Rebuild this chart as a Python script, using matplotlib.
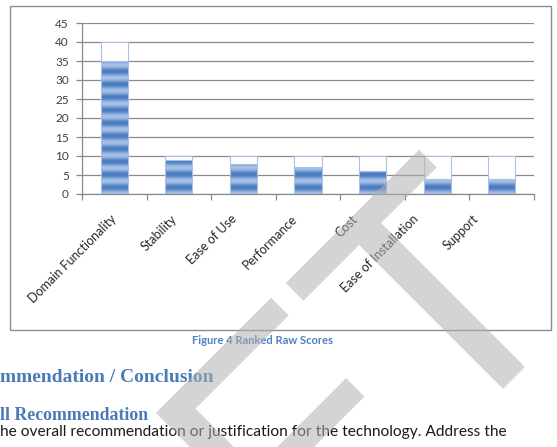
import numpy as np
import matplotlib
matplotlib.use("Agg")
import matplotlib.pyplot as plt
from matplotlib.patches import Rectangle
from matplotlib.transforms import blended_transform_factory

# Criteria ranked by raw score
categories = ['Domain Functionality', 'Stability', 'Ease of Use', 'Performance',
              'Cost', 'Ease of Installation', 'Support']
raw_scores = [35, 9, 8, 7, 6, 4, 4]
max_scores = [40, 10, 10, 10, 10, 10, 10]
y_ticks = [0, 5, 10, 15, 20, 25, 30, 35, 40, 45]

caption = 'Figure 4 Ranked Raw Scores'
heading = 'mmendation / Conclusion'
subheading = 'll Recommendation'
body = 'he overall recommendation or justification for the technology. Address the'

W, H = 557, 447
fig = plt.figure(figsize=(W / 100, H / 100), dpi=100)
fig.patch.set_facecolor('white')

# Chart frame (the embedded chart object border)
frame = Rectangle((10 / W, 1 - 330 / H), (551 - 10) / W, (330 - 6) / H,
                  transform=fig.transFigure, fill=False, edgecolor='#8c8c8c',
                  linewidth=1.0)
fig.patches.append(frame)

ax = fig.add_axes([82 / W, 1 - 194 / H, (534 - 82) / W, (194 - 23) / H])
ax.set_facecolor('none')

x = np.arange(len(categories))
remain = np.array(max_scores) - np.array(raw_scores)
width = 0.42

# Gradient colours for the striped blue fill
dark = np.array([0x4a, 0x7b, 0xbf]) / 255.0
light = np.array([0xa8, 0xc2, 0xe8]) / 255.0

blue_bars = ax.bar(x, raw_scores, width, facecolor='none', edgecolor='#a9c1e3',
                   linewidth=0.8, zorder=3)
for bar in blue_bars:
    x0, y0 = bar.get_x(), bar.get_y()
    h = bar.get_height()
    yy = np.linspace(y0, y0 + h, 400)
    t = 0.5 + 0.5 * np.cos(2 * np.pi * yy / 3.4)
    img = (dark[None, :] * (1 - t[:, None]) + light[None, :] * t[:, None])
    img = np.repeat(img[:, None, :], 2, axis=1)
    im = ax.imshow(img, extent=(x0, x0 + bar.get_width(), y0, y0 + h),
                   origin='lower', aspect='auto', zorder=2.5, interpolation='bilinear')
    im.set_clip_path(bar)

ax.bar(x, remain, width, bottom=raw_scores, facecolor='white', edgecolor='#a9c1e3',
       linewidth=0.8, zorder=3)

ax.set_xlim(-0.5, len(categories) - 0.5)
ax.set_ylim(0, 45)
ax.set_yticks(y_ticks)
ax.yaxis.grid(True, color='#8a8a8a', linewidth=0.9)
ax.set_axisbelow(True)

for s in ['top', 'right']:
    ax.spines[s].set_visible(False)
for s in ['left', 'bottom']:
    ax.spines[s].set_color('#8a8a8a')
    ax.spines[s].set_linewidth(0.9)

ax.set_xticks(np.arange(-0.5, len(categories)))
ax.set_xticklabels([])
ax.tick_params(axis='x', length=4, width=0.9, color='#8a8a8a')
ax.tick_params(axis='y', length=4, width=0.9, color='#8a8a8a',
               labelsize=8.5, labelcolor='#404040', pad=5.5)
for lab in ax.get_yticklabels():
    lab.set_fontfamily('Lato')

# Rotated category labels (slightly tighter spacing than the bars, as in the original)
trans = blended_transform_factory(ax.transData, ax.transAxes)
for i, name in enumerate(categories):
    ax.text(i - 0.065 * i, -0.135, name, rotation=45, ha='right', va='center',
            rotation_mode='anchor', transform=trans, fontsize=9,
            family='Lato', color='#262626')

# Document text around the chart
fig.text(262 / W, 1 - 341 / H, caption, ha='center', va='center',
         fontsize=8, fontweight='bold', color='#4f81bd', family='Lato')
fig.text(0, 1 - 377 / H, heading, ha='left', va='center', fontsize=14,
         fontweight='bold', color='#4a7ab8', family='Liberation Serif')
fig.text(0, 1 - 415 / H, subheading, ha='left', va='center', fontsize=12.8,
         fontweight='bold', color='#4a7ab8', family='Liberation Serif')
fig.text(0, 1 - 432 / H, body, ha='left', va='center', fontsize=11.2,
         color='#1a1a1a', family='Lato')

# DRAFT watermark
fig.text(579 / W, 1 - 286 / H, 'DRAFT', rotation=45, rotation_mode='anchor',
         ha='right', va='baseline', fontsize=240, family='Liberation Sans',
         color='#b0b0b0', alpha=0.55, zorder=10)

fig.savefig('out.png', dpi=100, facecolor='white')
